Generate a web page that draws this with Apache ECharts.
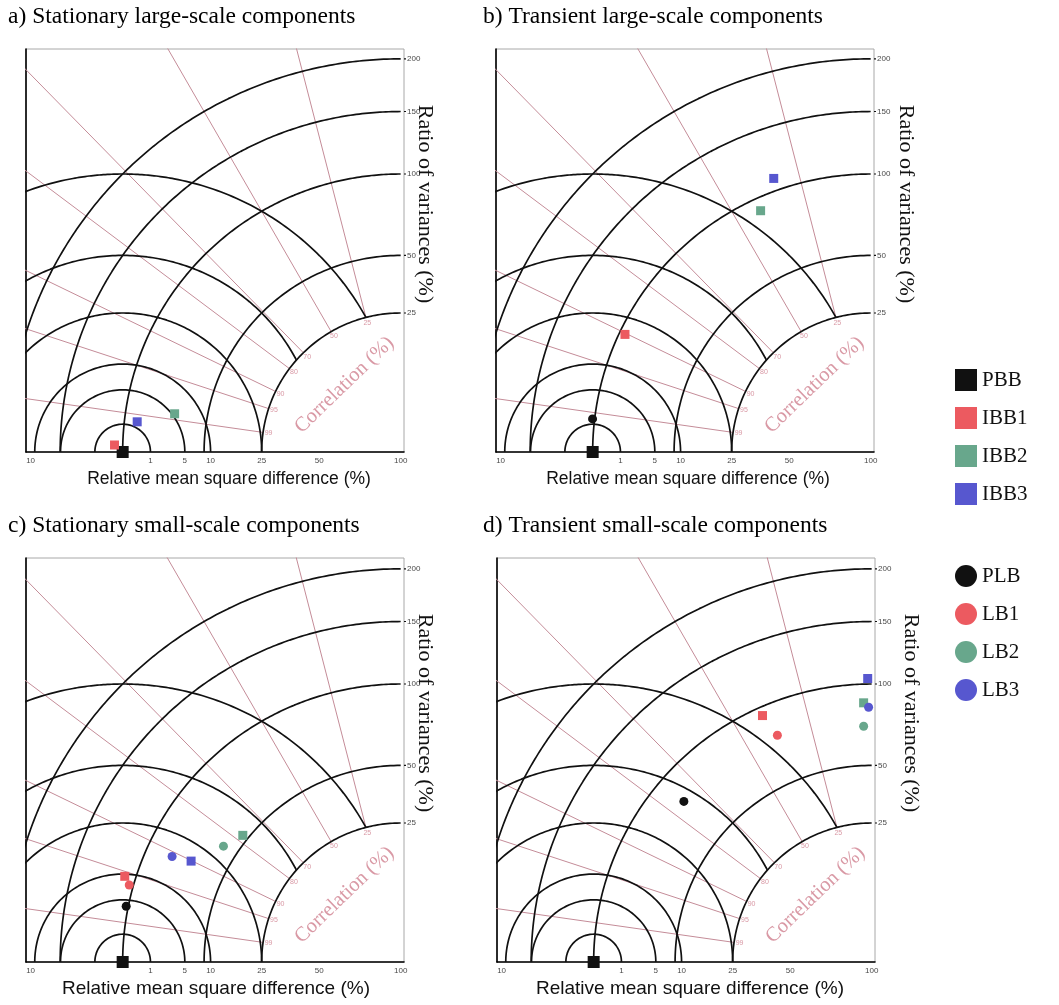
<!DOCTYPE html>
<html>
<head>
<meta charset="utf-8">
<script src="https://cdn.jsdelivr.net/npm/echarts@6/dist/echarts.min.js"></script>
<style>
  html, body { margin: 0; padding: 0; background: #fff; }
  #chart { width: 1059px; height: 1005px; }
</style>
</head>
<body>
<div id="chart"></div>
<script>
// ---- data -------------------------------------------------------------
const panelTitles = [
  'a) Stationary large-scale components',
  'b) Transient large-scale components',
  'c) Stationary small-scale components',
  'd) Transient small-scale components'
];
const seriesNames = ['PBB', 'IBB1', 'IBB2', 'IBB3', 'PLB', 'LB1', 'LB2', 'LB3'];

// ratio of variances (%) and correlation (%) for each series, in seriesNames order
const varianceA    = [100, 106, 68, 91, null, null, null, null];
const correlationA = [100, 99.97, 98.6, 99.35, null, null, null, null];
const varianceB    = [100, 96, 91, 109, 101.5, null, null, null];
const correlationB = [100, 90.2, 41.5, 33.4, 99.3, null, null, null];
const varianceC    = [100, 108, 53, 70, 101.5, 103, 58, 82];
const correlationC = [100, 95.5, 78.0, 90.1, 98.0, 96.2, 83.7, 90.8];
const varianceD    = [100, 94, 87, 104, 79, 78, 72, 84];
const correlationD = [100, 40.5, 3.1, 1.4, 76, 38.4, 3.4, 1.2];

// grid values
const varianceTicks    = [25, 50, 100, 150, 200];      // ratio of variances arcs (%)
const msdTicks         = [1, 5, 10, 25, 50, 100];      // relative mean square difference circles (%)
const correlationTicks = [25, 50, 70, 80, 90, 95, 99]; // correlation rays (%)

// ---- layout & style ---------------------------------------------------
const PX = 278;                // pixels per unit of standard-deviation ratio
const BOX_W = 378;
const U_MIN = -0.012;          // the origin sits just inside the right frame
const panelBoxes = [           // left, top, height of each frame
  [26, 49, 403], [496, 49, 403], [26, 558, 404], [497, 558, 404]
];
const xTitleSize = [17.5, 17.5, 19, 19];
const xTitleX = [229, 688, 216, 690];
const yTitleX = [425, 906, 425, 911];
const seriesColors = ['#111111', '#ec5a60', '#68a78c', '#5757cf', '#111111', '#ec5a60', '#68a78c', '#5757cf'];
const seriesSymbols = ['rect', 'rect', 'rect', 'rect', 'circle', 'circle', 'circle', 'circle'];
const seriesSizes = [12, 9, 9, 9, 9, 9, 9, 9];
const ARC = '#111111';
const PINK = '#c48c98';
const PINK_TEXT = '#d0808f';
const SERIF = '"Liberation Serif", "Times New Roman", serif';
const SANS = '"Liberation Sans", Arial, sans-serif';

const panelData = [
  [varianceA, correlationA], [varianceB, correlationB],
  [varianceC, correlationC], [varianceD, correlationD]
];

// polar (std ratio, correlation) -> diagram coordinates (u leftwards, v upwards)
function toUV(variancePct, corrPct) {
  const s = Math.sqrt(variancePct / 100);
  const c = corrPct / 100;
  return [s * c, s * Math.sqrt(Math.max(0, 1 - c * c))];
}

const grids = [], xAxes = [], yAxes = [], series = [], graphics = [];

panelBoxes.forEach(([left, top, height], p) => {
  grids.push({ left, top, width: BOX_W, height, show: true, borderColor: '#a8a8a8', borderWidth: 1 });
  xAxes.push({
    gridIndex: p, type: 'value', inverse: true, min: U_MIN, max: U_MIN + BOX_W / PX,
    axisLine: { show: true, onZero: false, lineStyle: { color: '#000', width: 1.6 } },
    axisTick: { show: false }, axisLabel: { show: false }, splitLine: { show: false }
  });
  yAxes.push({
    gridIndex: p, type: 'value', min: 0, max: height / PX,
    axisLine: { show: true, onZero: false, lineStyle: { color: '#000', width: 1.6 } },
    axisTick: { show: false }, axisLabel: { show: false }, splitLine: { show: false }
  });

  const base = { xAxisIndex: p, yAxisIndex: p, silent: true, animation: false };

  // correlation rays, from the 25 % variance arc outwards
  correlationTicks.forEach(c => {
    const a = Math.acos(c / 100);
    series.push(Object.assign({}, base, {
      type: 'line', showSymbol: false, clip: true, z: 1,
      lineStyle: { color: PINK, width: 1 },
      data: [[0.5 * Math.cos(a), 0.5 * Math.sin(a)], [2.2 * Math.cos(a), 2.2 * Math.sin(a)]]
    }));
  });

  // arcs of constant ratio of variances, centred on the origin
  varianceTicks.forEach(v => {
    const r = Math.sqrt(v / 100);
    const pts = [];
    for (let d = 0; d <= 90; d += 0.5) {
      const t = d * Math.PI / 180;
      pts.push([r * Math.cos(t), r * Math.sin(t)]);
    }
    series.push(Object.assign({}, base, {
      type: 'line', showSymbol: false, clip: true, z: 2,
      lineStyle: { color: ARC, width: 1.7 }, data: pts
    }));
    // short tick out to the label
    series.push(Object.assign({}, base, {
      type: 'line', showSymbol: false, clip: false, z: 2,
      lineStyle: { color: ARC, width: 1.2 }, data: [[U_MIN, r], [U_MIN - 0.014, r]]
    }));
  });

  // circles of constant mean square difference, centred on the reference,
  // kept outside the 25 % variance arc
  msdTicks.forEach(m => {
    const r = Math.sqrt(m / 100);
    const cosMax = Math.max(-1, (0.25 - 1 - r * r) / (2 * r));
    const phiMax = Math.acos(cosMax);
    const pts = [];
    const n = 360;
    for (let i = 0; i <= n; i++) {
      const phi = phiMax * i / n;
      pts.push([1 + r * Math.cos(phi), r * Math.sin(phi)]);
    }
    series.push(Object.assign({}, base, {
      type: 'line', showSymbol: false, clip: true, z: 2,
      lineStyle: { color: ARC, width: 1.7 }, data: pts
    }));
  });

  // tick labels: variance ratios on the right frame
  series.push(Object.assign({}, base, {
    type: 'scatter', symbolSize: 0, clip: false, z: 5,
    label: { show: true, position: 'right', distance: 3, formatter: '{b}',
             fontFamily: SANS, fontSize: 8, color: '#111' },
    data: varianceTicks.map(v => ({ name: String(v), value: [U_MIN, Math.sqrt(v / 100)] }))
  }));
  // tick labels: mean square differences along the base line
  const msdLabelData = msdTicks.map(m => ({ name: String(m), value: [1 - Math.sqrt(m / 100), 0] }));
  msdLabelData.push({ name: '10', value: [1 + Math.sqrt(0.1) + 0.015, 0] });
  series.push(Object.assign({}, base, {
    type: 'scatter', symbolSize: 0, clip: false, z: 5,
    label: { show: true, position: 'bottom', distance: 5, formatter: '{b}',
             fontFamily: SANS, fontSize: 8, color: '#111' },
    data: msdLabelData
  }));
  // correlation labels along the 25 % arc
  series.push(Object.assign({}, base, {
    type: 'scatter', symbolSize: 0, clip: false, z: 5,
    label: { show: true, position: 'inside', formatter: '{b}',
             fontFamily: SANS, fontSize: 7, color: PINK_TEXT },
    data: correlationTicks.map(c => {
      const a = Math.acos(c / 100);
      return { name: String(c), value: [0.48 * Math.cos(a), 0.48 * Math.sin(a)] };
    })
  }));
  // "Correlation (%)" caption inside the quarter disc
  series.push(Object.assign({}, base, {
    type: 'scatter', symbolSize: 0, clip: false, z: 5,
    label: { show: true, position: 'inside', formatter: '{b}', rotate: 44,
             fontFamily: SERIF, fontSize: 20.5, color: PINK_TEXT },
    data: [{ name: 'Correlation (%)', value: [0.315 * Math.cos(0.873), 0.315 * Math.sin(0.873)] }]
  }));

  // model markers
  const [vars, cors] = panelData[p];
  seriesNames.forEach((name, k) => {
    if (vars[k] == null) return;
    series.push({
      name, type: 'scatter', xAxisIndex: p, yAxisIndex: p, clip: false, z: 10,
      animation: false,
      symbol: seriesSymbols[k], symbolSize: seriesSizes[k],
      itemStyle: { color: seriesColors[k], opacity: 1 },
      data: [toUV(vars[k], cors[k])]
    });
  });

  // captions
  graphics.push({
    type: 'text', x: p % 2 === 0 ? 8 : 483, y: top - 32,
    style: { text: panelTitles[p], font: '23.5px ' + SERIF, fill: '#000', textVerticalAlign: 'middle' }
  });
  graphics.push({
    type: 'text', x: xTitleX[p], y: top + height + 27,
    style: { text: 'Relative mean square difference (%)', font: xTitleSize[p] + 'px ' + SANS, fill: '#111',
             textAlign: 'center', textVerticalAlign: 'middle' }
  });
  graphics.push({
    type: 'text', x: yTitleX[p], y: top + 155, rotation: -Math.PI / 2,
    style: { text: 'Ratio of variances (%)', font: '22px ' + SERIF, fill: '#111',
             textAlign: 'center', textVerticalAlign: 'middle' }
  });
});

const legendText = { fontFamily: SERIF, fontSize: 21, color: '#111' };
const option = {
  backgroundColor: '#fff',
  animation: false,
  grid: grids, xAxis: xAxes, yAxis: yAxes, series,
  graphic: graphics,
  legend: [
    { data: seriesNames.slice(0, 4), orient: 'vertical', left: 950, top: 364, icon: 'rect',
      itemWidth: 22, itemHeight: 22, itemGap: 16, itemStyle: { borderWidth: 0 }, textStyle: legendText, selectedMode: false },
    { data: seriesNames.slice(4), orient: 'vertical', left: 950, top: 560, icon: 'circle',
      itemWidth: 22, itemHeight: 22, itemGap: 16, itemStyle: { borderWidth: 0 }, textStyle: legendText, selectedMode: false }
  ]
};

const chart = echarts.init(document.getElementById('chart'), null, { renderer: 'canvas' });
chart.setOption(option);
</script>
</body>
</html>
